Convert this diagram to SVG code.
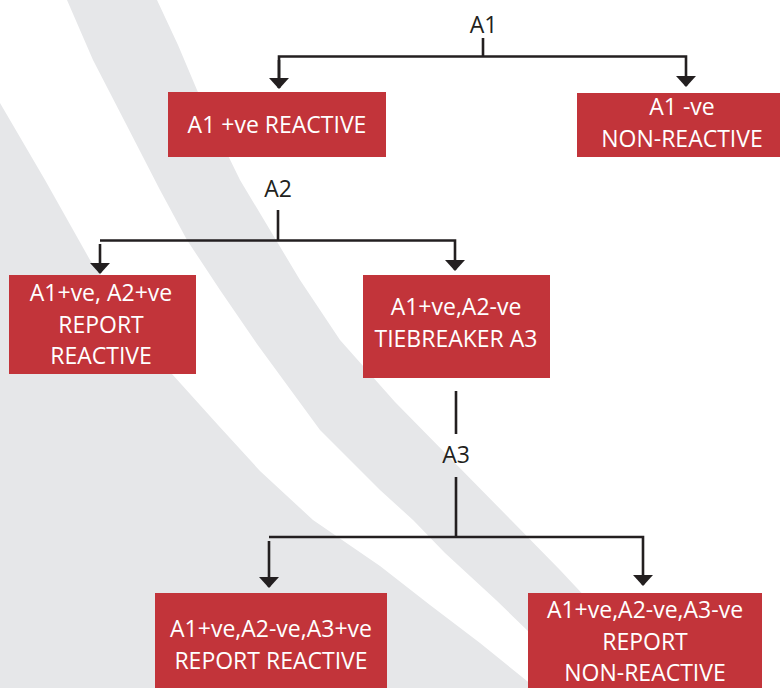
<svg xmlns="http://www.w3.org/2000/svg" width="780" height="688" viewBox="0 0 780 688">
  <style>
    .band { fill: #e6e7e9; }
    .box { fill: #c2343a; }
    .boxtext { font-family: "Open Sans", "Noto Sans", "DejaVu Sans", sans-serif; font-size: 23px; fill: #ffffff; text-anchor: middle; }
    .label { font-family: "Open Sans", "Noto Sans", "DejaVu Sans", sans-serif; font-size: 23px; fill: #231f20; text-anchor: middle; }
    .wire { fill: none; stroke: #231f20; stroke-width: 2.6; }
  </style>
  <defs>
    <marker id="arrow" markerUnits="userSpaceOnUse" markerWidth="11" markerHeight="20" viewBox="0 0 11 20" refX="10" refY="10" orient="auto">
      <path d="M0,0 L11,10 L0,20 Z" fill="#231f20"/>
    </marker>
  </defs>

  <!-- background sweep bands -->
  <g id="background">
    <rect x="0" y="0" width="780" height="688" fill="#ffffff"/>
    <path class="band" d="M0,103 L45,180 L90,260 L132,318 L172,374 L218,425 L260,471 L313,520 L380,566 L430,605 L480,643 L527,681 L536,688 L0,688 Z"/>
    <path class="band" d="M67,0 L157,0 L178,45 L197,90 L218,135 L240,180 L270,230 L300,280 L340,340 L395,402 L452,460 L511,520 L560,570 L605,618 L650,660 L678,688 L588,688 L560,662 L496,600 L445,553 L413,520 L380,490 L320,430 L257,344 L220,290 L187,240 L160,190 L125,122 L93,60 Z"/>
  </g>

  <!-- connectors -->
  <g id="connectors">
    <path class="wire" d="M483,38 V56.5"/>
    <path class="wire" d="M279,88 V56.5 H686 V86" marker-end="url(#arrow)"/>
    <path class="wire" d="M279,60 V88" marker-end="url(#arrow)"/>
    <path class="wire" d="M278,210 V240.5"/>
    <path class="wire" d="M100,244 V273" marker-end="url(#arrow)"/>
    <path class="wire" d="M100,240.5 H455 V270" marker-end="url(#arrow)"/>
    <path class="wire" d="M456,391 V434"/>
    <path class="wire" d="M456,477 V537"/>
    <path class="wire" d="M269,541 V587" marker-end="url(#arrow)"/>
    <path class="wire" d="M269,537 H643 V585" marker-end="url(#arrow)"/>
  </g>

  <!-- decision labels -->
  <g id="label-a1"><text class="label" x="483.5" y="33">A1</text></g>
  <g id="label-a2"><text class="label" x="278" y="197">A2</text></g>
  <g id="label-a3"><text class="label" x="456" y="463">A3</text></g>

  <!-- outcome boxes -->
  <g id="a1-positive">
    <rect class="box" x="168" y="92" width="218" height="65"/>
    <text class="boxtext" x="277" y="133">A1 +ve REACTIVE</text>
  </g>
  <g id="a1-negative">
    <rect class="box" x="577" y="93" width="210" height="64"/>
    <text class="boxtext" x="682" y="115">A1 -ve</text>
    <text class="boxtext" x="682" y="147">NON-REACTIVE</text>
  </g>
  <g id="a2-positive">
    <rect class="box" x="9" y="275" width="187" height="99"/>
    <text class="boxtext" x="101" y="301">A1+ve, A2+ve</text>
    <text class="boxtext" x="101" y="333">REPORT</text>
    <text class="boxtext" x="101" y="364">REACTIVE</text>
  </g>
  <g id="a2-negative">
    <rect class="box" x="363" y="275" width="187" height="103"/>
    <text class="boxtext" x="456" y="315">A1+ve,A2-ve</text>
    <text class="boxtext" x="456" y="347">TIEBREAKER A3</text>
  </g>
  <g id="a3-positive">
    <rect class="box" x="155" y="593" width="232" height="100"/>
    <text class="boxtext" x="271" y="637">A1+ve,A2-ve,A3+ve</text>
    <text class="boxtext" x="271" y="669">REPORT REACTIVE</text>
  </g>
  <g id="a3-negative">
    <rect class="box" x="528" y="593" width="234" height="100"/>
    <text class="boxtext" x="645" y="618">A1+ve,A2-ve,A3-ve</text>
    <text class="boxtext" x="645" y="650">REPORT</text>
    <text class="boxtext" x="645" y="681">NON-REACTIVE</text>
  </g>
</svg>
